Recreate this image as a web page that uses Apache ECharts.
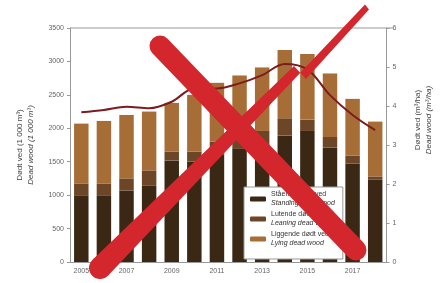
<!DOCTYPE html>
<html>
<head>
<meta charset="utf-8">
<script src="https://cdn.jsdelivr.net/npm/echarts@6/dist/echarts.min.js"></script>
<style>
  html, body { margin: 0; padding: 0; background: #fff; }
  #chart { width: 441px; height: 283px; }
</style>
</head>
<body>
<div id="chart"></div>
<script>
// år / years
var years = ['2005','2006','2007','2008','2009','2010','2011','2012','2013','2014','2015','2016','2017','2018'];

// stående, lutende, liggende dødt ved (1 000 m3)
var standing = [1000, 1000, 1070, 1140, 1520, 1500, 1610, 1700, 1720, 1890, 1960, 1710, 1470, 1230];
var leaning  = [ 170,  170,  180,  230,  130,  150,  190,  190,  240,  260,  170,  160,  120,   50];
var lying    = [ 900,  940,  950,  880,  730,  850,  880,  900,  950, 1020,  980,  950,  850,  820];

// dødt ved per hektar (m3/ha)
var perHa = [3.84, 3.9, 3.98, 3.94, 4.11, 4.45, 4.45, 4.58, 4.79, 5.08, 4.94, 4.28, 3.77, 3.38];

var names = [
  '{a|Stående dødt ved}\n{b|Standing dead wood}',
  '{a|Lutende dødt ved}\n{b|Leaning dead wood}',
  '{a|Liggende dødt ved}\n{b|Lying dead wood}'
];
var colors = ['#3b2814', '#6c4626', '#a66d37'];

var chart = echarts.init(document.getElementById('chart'));

var axisTxt = { color: '#666', fontSize: 7, fontFamily: 'Liberation Sans', formatter: function (v) { return String(v); } };
var titleRich = {
  a: { fontSize: 8, color: '#444', fontFamily: 'Liberation Sans', lineHeight: 11 },
  b: { fontSize: 8, color: '#444', fontFamily: 'Liberation Sans', fontStyle: 'italic', lineHeight: 11 }
};

chart.setOption({
  animation: false,
  grid: { left: 70, right: 47, top: 28, bottom: 21 },
  legend: {
    data: ['s0', 's1', 's2'],
    orient: 'vertical',
    left: 244, top: 187,
    padding: [4, 8, 12, 6],
    backgroundColor: '#fff',
    borderColor: '#999', borderWidth: 1,
    itemWidth: 16, itemHeight: 5, itemGap: 4,
    formatter: function (n) { return names[+n.slice(1)]; },
    textStyle: {
      rich: {
        a: { fontSize: 7, color: '#333', fontFamily: 'Liberation Sans', lineHeight: 9 },
        b: { fontSize: 7, color: '#333', fontFamily: 'Liberation Sans', fontStyle: 'italic', lineHeight: 9 }
      }
    }
  },
  xAxis: {
    type: 'category',
    data: years,
    axisLine: { lineStyle: { color: '#999' } },
    axisTick: { interval: 1, alignWithLabel: true, length: 3, lineStyle: { color: '#555' } },
    axisLabel: { interval: 1, margin: 6, color: '#666', fontSize: 7, fontFamily: 'Liberation Sans' }
  },
  yAxis: [{
    type: 'value', min: 0, max: 3500, interval: 500,
    name: '{a|Dødt ved (1 000 m³)}\n{b|Dead wood (1 000 m³)}',
    nameLocation: 'middle', nameGap: 34,
    nameTextStyle: { rich: titleRich },
    axisLine: { show: true, lineStyle: { color: '#999' } },
    axisTick: { show: true, length: 3, lineStyle: { color: '#999' } },
    axisLabel: Object.assign({ margin: 6 }, axisTxt),
    splitLine: { show: false }
  }, {
    type: 'value', min: 0, max: 6, interval: 1,
    position: 'right',
    name: '{a|Dødt ved (m³/ha)}\n{b|Dead wood (m³/ha)}',
    nameLocation: 'middle', nameGap: 26,
    nameTextStyle: { rich: titleRich, padding: [0, 0, 0, 50] },
    axisLine: { show: true, lineStyle: { color: '#999' } },
    axisTick: { show: true, length: 3, lineStyle: { color: '#999' } },
    axisLabel: Object.assign({ margin: 6 }, axisTxt),
    splitLine: { show: false }
  }],
  series: [
    { name: 's0', type: 'bar', stack: 'v', data: standing, barWidth: '64%', itemStyle: { color: colors[0] } },
    { name: 's1', type: 'bar', stack: 'v', data: leaning, itemStyle: { color: colors[1] } },
    { name: 's2', type: 'bar', stack: 'v', data: lying, itemStyle: { color: colors[2] } },
    {
      name: 'ha', type: 'line', yAxisIndex: 1, data: perHa,
      smooth: 0.35, symbol: 'none',
      lineStyle: { color: '#7c1c1e', width: 2 }, z: 5
    }
  ],
  graphic: [
    // topp-ramme
    { type: 'line', shape: { x1: 70, y1: 28, x2: 394, y2: 28 }, style: { stroke: '#999', lineWidth: 1 }, z: 1 },
    // rødt kryss
    { type: 'circle', shape: { cx: 100, cy: 268, r: 11 }, style: { fill: '#d3262d' }, z: 100 },
    { type: 'polygon', shape: { points: [[107.7, 275.9], [92.3, 260.1], [294, 66], [306, 79], [369, 9.5], [365, 4.5]] },
      style: { fill: '#d3262d' }, z: 100 },
    { type: 'polyline', shape: { points: [[160, 46], [356, 250]] },
      style: { stroke: '#d3262d', lineWidth: 21, lineCap: 'round' }, z: 100 }
  ]
});
</script>
</body>
</html>
